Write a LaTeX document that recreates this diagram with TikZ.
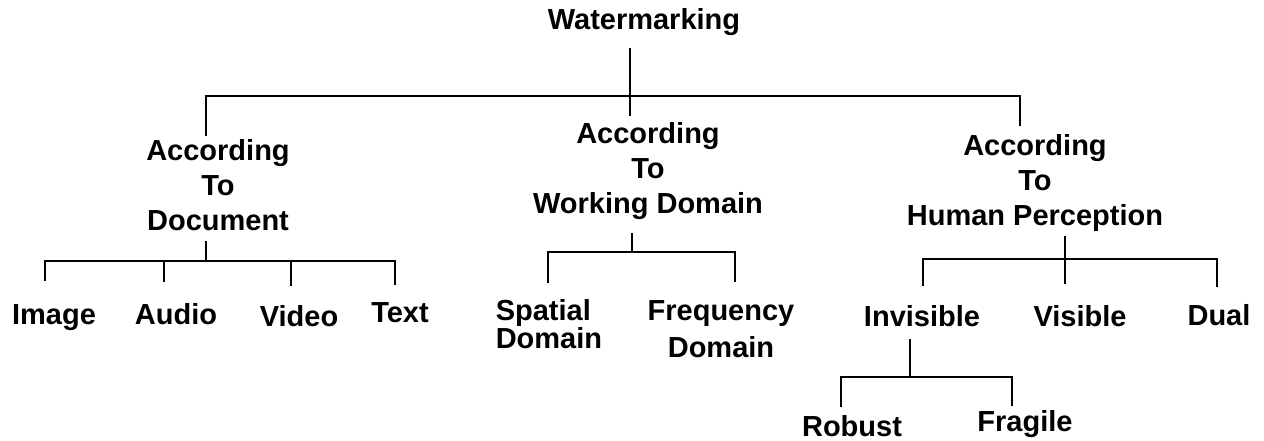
\documentclass[tikz,border=0pt]{standalone}
\usepackage{fontspec}
\setmainfont{Liberation Sans}
\usepackage{tikz}

\begin{document}
\begin{tikzpicture}[x=1pt, y=-1pt, line width=1.6pt,
	lbl/.style={inner sep=0pt, anchor=base, align=center, font=\bfseries\fontsize{29}{35}\selectfont}]
	%\draw [help lines] (0,0) grid (1264,441);
	\useasboundingbox (0,0) rectangle (1264,441);
	\node [lbl] (wm) at (644,30) {Watermarking};
	\node [lbl] (doc) at (218,230) {According\\To\\Document};
	\node [lbl] (dom) at (648,213) {According\\To\\Working Domain};
	\node [lbl] (hum) at (1035,225) {According\\To\\Human Perception};
	\node [lbl] (img) at (54,324) {Image};
	\node [lbl] (aud) at (176,324) {Audio};
	\node [lbl] (vid) at (299,326) {Video};
	\node [lbl] (txt) at (400,322) {Text};
	\node [lbl, anchor=base west, align=left, font=\bfseries\fontsize{29}{28}\selectfont] (spa) at (495,348) {Spatial\\Domain};
	\node [lbl, font=\bfseries\fontsize{29}{37}\selectfont] (fre) at (721,357) {Frequency\\Domain};
	\node [lbl] (inv) at (922,326) {Invisible};
	\node [lbl] (vis) at (1080,326) {Visible};
	\node [lbl] (dua) at (1219,325) {Dual};
	\node [lbl] (rob) at (852,436) {Robust};
	\node [lbl] (fra) at (1025,431) {Fragile};
	% top level
	\coordinate (j0) at (630,96);
	\draw [shorten <=11pt, shorten >=5pt] (wm.south -| j0) -- (dom.north -| j0);
	\draw [shorten <=2pt] (doc.north -| 206,0) |- (j0);
	\draw [shorten <=7pt] (hum.north -| 1020,0) |- (j0);
	% document
	\coordinate (j1) at (206,261);
	\draw [shorten <=10pt] (doc.south -| j1) -- (j1);
	\draw [shorten <=22pt] (img.north -| 45,0) |- (j1);
	\draw [shorten <=20pt] (aud.north -| 164,0) |- (j1);
	\draw [shorten <=18pt] (vid.north -| 291,0) |- (j1);
	\draw [shorten <=16pt] (txt.north -| 395,0) |- (j1);
	% working domain
	\coordinate (j2) at (632,252);
	\draw [shorten <=13pt] (dom.south -| j2) -- (j2);
	\draw [shorten <=15pt] (spa.north -| 548,0) |- (j2);
	\draw [shorten <=17pt] (fre.north -| 735,0) |- (j2);
	% human perception
	\coordinate (j3) at (1065,259);
	\draw [shorten <=4pt, shorten >=20pt] (hum.south -| j3) -- (vis.north -| j3);
	\draw [shorten <=18pt] (inv.north -| 923,0) |- (j3);
	\draw [shorten <=16pt] (dua.north -| 1217,0) |- (j3);
	% invisible
	\coordinate (j4) at (910,377);
	\draw [shorten <=12pt] (inv.south -| j4) -- (j4);
	\draw [shorten <=7pt] (rob.north -| 841,0) |- (j4);
	\draw [shorten <=3pt] (fra.north -| 1012,0) |- (j4);
\end{tikzpicture}
\end{document}
